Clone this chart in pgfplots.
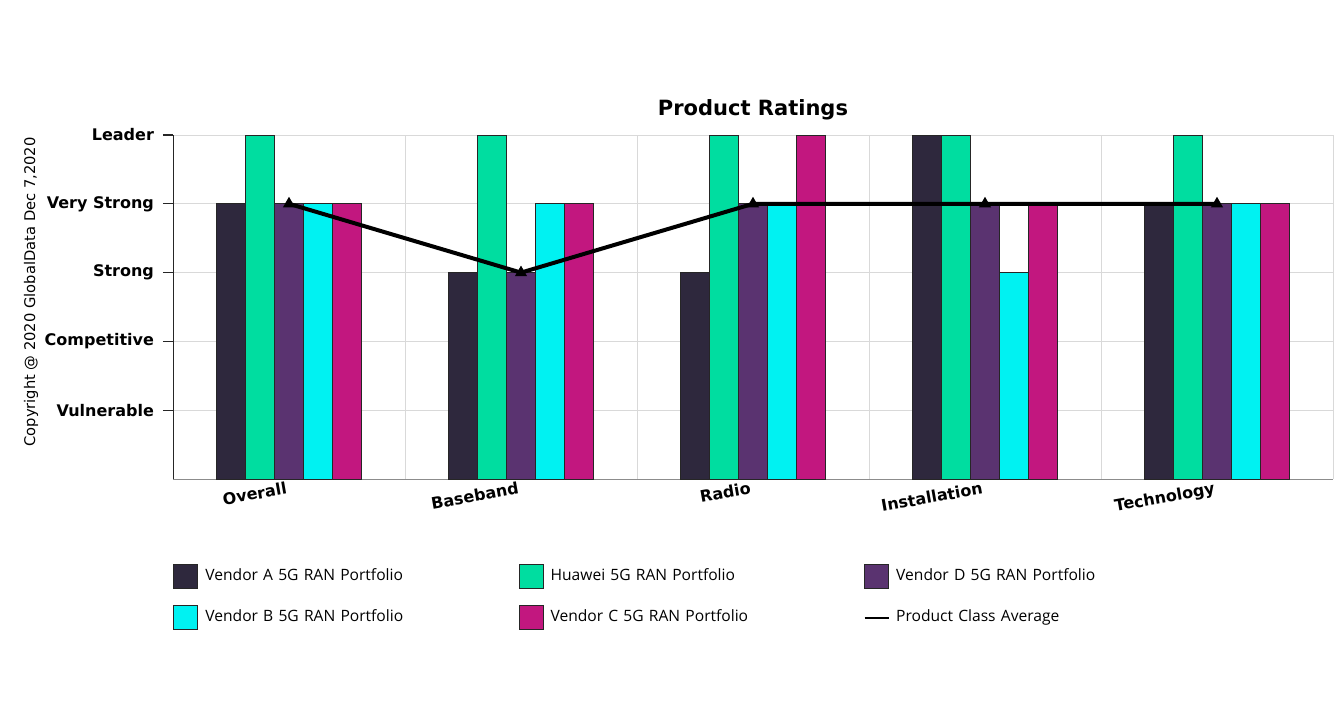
\documentclass[border=0pt]{standalone}
\usepackage{fontspec}
\setmainfont{DejaVu Sans}
\newfontfamily\legendfont{Open Sans}
\usepackage{pgfplots}
\pgfplotsset{compat=1.18}

\definecolor{venA}{HTML}{2E283D}
\definecolor{venH}{HTML}{00DDA0}
\definecolor{venD}{HTML}{5A3370}
\definecolor{venB}{HTML}{00F2F2}
\definecolor{venC}{HTML}{C2177F}

\begin{document}
\begin{tikzpicture}
  \path[use as bounding box] (0,0) rectangle (671.5pt,351.5pt);
  \node[rotate=90, font=\fontsize{7.35}{8}\selectfont] at (15.5pt,205.5pt)
    {Copyright @ 2020 GlobalData Dec 7,2020};
  \begin{axis}[
      at={(86.5pt,112pt)}, anchor=south west,
      scale only axis,
      width=580pt, height=172pt,
      xmin=-0.5, xmax=4.5,
      ymin=0, ymax=5,
      axis lines=left,
      x axis line style={draw=black!45, -},
      y axis line style={draw=black!85, -},
      xtick={0,1,2,3,4},
      xticklabels={Overall,Baseband,Radio,Installation,Technology},
      x tick label style={font=\bfseries\fontsize{8}{9}\selectfont,
        rotate=10, anchor=north east, inner sep=1pt, yshift=5pt},
      xtick style={draw=none},
      minor xtick={0.5,1.5,2.5,3.5,4.5},
      xminorgrids,
      minor x tick style={draw=none},
      ytick={1,2,3,4,5},
      yticklabels={Vulnerable,Competitive,Strong,Very Strong,Leader},
      y tick label style={font=\bfseries\fontsize{8}{9}\selectfont, xshift=-1pt},
      ytick style={draw=black!85, line width=0.6pt},
      tick align=outside,
      major tick length=5pt,
      ymajorgrids,
      grid style={draw=black!15, line width=0.5pt},
      minor grid style={draw=black!15, line width=0.5pt},
      title={Product Ratings},
      title style={font=\bfseries\fontsize{10.5}{12}\selectfont,
        at={(0.5,1)}, anchor=south, inner sep=0pt, yshift=1.5pt},
      legend columns=3,
      legend style={at={(0,-0.247)}, anchor=north west, draw=none,
        inner sep=0pt, font=\legendfont\fontsize{7.8}{9}\selectfont,
        nodes={inner sep=0pt, text width=156.6pt, align=left,
          text height=6pt, text depth=2pt},
        /tikz/every odd column/.style={column sep=3.5pt},
        /tikz/every even column/.style={column sep=0pt},
        row sep=8pt},
      legend cell align=left,
      area legend,
      legend image code/.code={\fill[#1] (0pt,-6pt) rectangle (12pt,6pt);},
    ]
    \addplot[ybar, bar width=14.5pt, bar shift=-29pt, fill=venA, draw=black!85, line width=0.5pt]
      coordinates {(0,4) (1,3) (2,3) (3,5) (4,4)};
    \addlegendentry{Vendor A 5G RAN Portfolio}
    \addplot[ybar, bar width=14.5pt, bar shift=-14.5pt, fill=venH, draw=black!85, line width=0.5pt]
      coordinates {(0,5) (1,5) (2,5) (3,5) (4,5)};
    \addlegendentry{Huawei 5G RAN Portfolio}
    \addplot[ybar, bar width=14.5pt, bar shift=0pt, fill=venD, draw=black!85, line width=0.5pt]
      coordinates {(0,4) (1,3) (2,4) (3,4) (4,4)};
    \addlegendentry{Vendor D 5G RAN Portfolio}
    \addplot[ybar, bar width=14.5pt, bar shift=14.5pt, fill=venB, draw=black!85, line width=0.5pt]
      coordinates {(0,4) (1,4) (2,4) (3,3) (4,4)};
    \addlegendentry{Vendor B 5G RAN Portfolio}
    \addplot[ybar, bar width=14.5pt, bar shift=29pt, fill=venC, draw=black!85, line width=0.5pt]
      coordinates {(0,4) (1,4) (2,5) (3,4) (4,4)};
    \addlegendentry{Vendor C 5G RAN Portfolio}
    \addplot[sharp plot, black, line width=2pt, mark=triangle*, mark size=3pt,
      mark options={solid, line width=0.5pt},
      legend image code/.code={\draw[black, line width=0.7pt] (0pt,0pt) -- (12pt,0pt);}]
      coordinates {(0,4) (1,3) (2,4) (3,4) (4,4)};
    \addlegendentry{Product Class Average}
  \end{axis}
\end{tikzpicture}
\end{document}
